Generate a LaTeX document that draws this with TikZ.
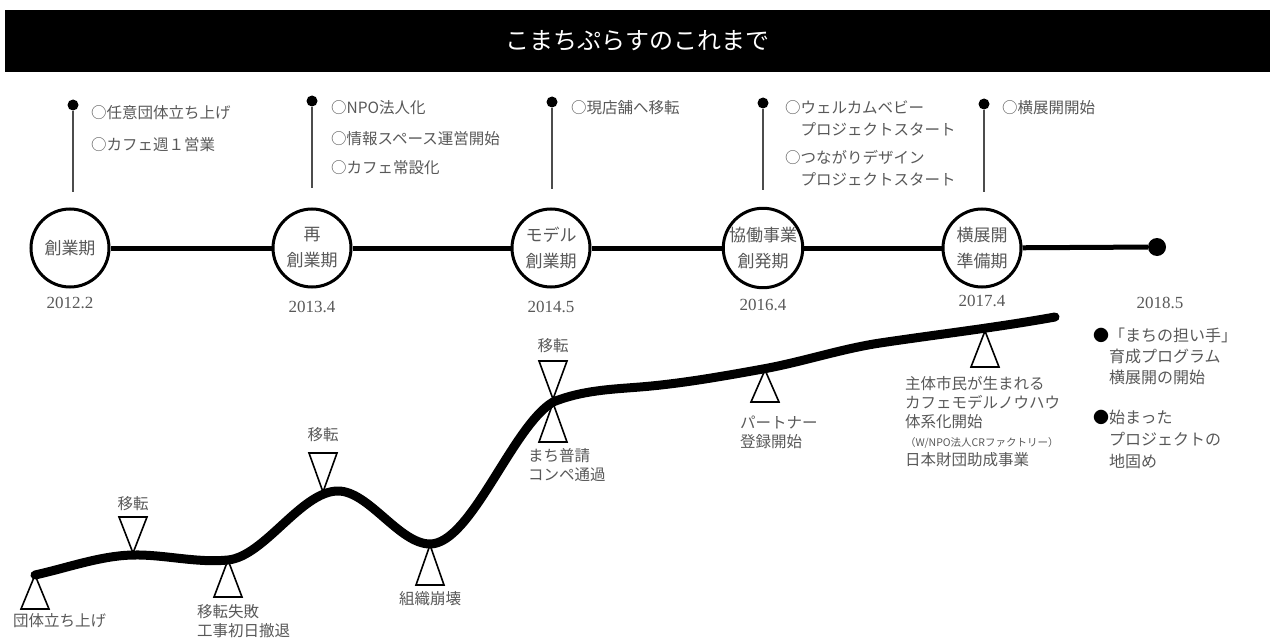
\documentclass[tikz,border=0pt]{standalone}
\usepackage{fontspec}
\setmainfont{Noto Sans CJK JP}
\newfontfamily\datefont{Liberation Serif}
\usetikzlibrary{positioning}
\usepackage{xcolor}
\definecolor{inkgray}{RGB}{88,88,88}

\begin{document}
\begin{tikzpicture}[
  x=1pt, y=-1pt,
  banner/.style={rectangle, fill=black, text=white, minimum width=1265pt, minimum height=62pt, inner sep=0pt, font=\fontsize{24}{28}\selectfont},
  phase/.style={circle, draw=black, line width=3pt, fill=white, minimum size=78pt, inner sep=0pt, align=center, text=inkgray, font=\fontsize{17}{26}\selectfont},
  pindot/.style={circle, fill=black, minimum size=11pt, inner sep=0pt},
  pinline/.style={line width=2pt, draw=black!70},
  event/.style={anchor=north west, align=left, inner sep=0pt, text=inkgray, font=\fontsize{15.5}{21}\selectfont},
  date/.style={inner sep=0pt, text=inkgray, font=\datefont\fontsize{17}{20}\selectfont},
  axis/.style={line width=5pt},
  growth/.style={line width=9pt, line cap=round, line join=round},
  tri/.style={line width=1.6pt},
  note/.style={align=left, inner sep=0pt, text=inkgray, font=\fontsize{15.5}{19}\selectfont},
]
  \useasboundingbox (0,0) rectangle (1270,642);

  % Title
  \node[banner] (title) at (637.5,41) {こまちぷらすのこれまで};

  % Phases on the timeline
  \node[phase] (p1) at (70,248) {創業期};
  \node[phase] (p2) at (312,248) {再\\創業期};
  \node[phase] (p3) at (551,248) {モデル\\創業期};
  \node[phase] (p4) at (763,248) {協働事業\\創発期};
  \node[phase] (p5) at (982,248) {横展開\\準備期};
  \node[circle, fill=black, minimum size=18pt, inner sep=0pt] (fin) at (1157,247) {};

  \draw[axis] (p1) -- (p2);
  \draw[axis] (p2) -- (p3);
  \draw[axis] (p3) -- (p4);
  \draw[axis] (p4) -- (p5);
  \draw[axis] (p5) -- (fin);

  \node[date, below=8pt of p1] (d1) {2012.2};
  \node[date, below=12pt of p2] (d2) {2013.4};
  \node[date, below=12pt of p3] (d3) {2014.5};
  \node[date, below=10pt of p4] (d4) {2016.4};
  \node[date, below=6pt of p5] (d5) {2017.4};
  \node[date] (d6) at (1160,303) {2018.5};

  % Pins with events
  \node[pindot] (k1) at (73,105) {};
  \node[pindot] (k2) at (312,101) {};
  \node[pindot] (k3) at (552,102) {};
  \node[pindot] (k4) at (763,103) {};
  \node[pindot] (k5) at (984,104) {};
  \coordinate (e1) at (73,192);
  \coordinate (e2) at (312,188);
  \coordinate (e3) at (552,189);
  \coordinate (e4) at (763,190);
  \coordinate (e5) at (984,192);
  \draw[pinline] (k1) -- (e1);
  \draw[pinline] (k2) -- (e2);
  \draw[pinline] (k3) -- (e3);
  \draw[pinline] (k4) -- (e4);
  \draw[pinline] (k5) -- (e5);

  \node[event] (ev1) at (91,105) {○任意団体立ち上げ\\[11pt]○カフェ週１営業};
  \node[event] (ev2) at (331,100) {○NPO法人化\\[10pt]○情報スペース運営開始\\[8pt]○カフェ常設化};
  \node[event] (ev3) at (571,100) {○現店舗へ移転};
  \node[event] (ev4) at (785,100) {○ウェルカムベビー\\[1pt]　プロジェクトスタート\\[7pt]○つながりデザイン\\[1pt]　プロジェクトスタート};
  \node[event] (ev5) at (1002,100) {○横展開開始};

  % Growth curve
  \coordinate (g0) at (35,575);
  \coordinate (g1) at (133,555);
  \coordinate (g2) at (228,560);
  \coordinate (g3) at (338,491);
  \coordinate (g4) at (430,544);
  \coordinate (g5) at (553,402);
  \coordinate (g6) at (640,387);
  \coordinate (g7) at (763,369);
  \coordinate (g8) at (880,343);
  \coordinate (g9) at (1055,317);

  % Markers (apex on the curve)
  \coordinate (t1) at (35,575);
  \coordinate (t2) at (133,553);
  \coordinate (t3) at (228,560);
  \coordinate (t4) at (323,492);
  \coordinate (t5) at (430,545);
  \coordinate (t6) at (553,399);
  \coordinate (t7) at (553,403);
  \coordinate (t8) at (765,370);
  \coordinate (t9) at (985,331);

  \draw[tri] (t1) -- ++(-14,34) -- ++(28,0) -- cycle;
  \draw[tri] (t2) -- ++(-14,-36) -- ++(28,0) -- cycle;
  \draw[tri] (t3) -- ++(-14,37) -- ++(28,0) -- cycle;
  \draw[tri] (t4) -- ++(-14,-39) -- ++(28,0) -- cycle;
  \draw[tri] (t5) -- ++(-14,40) -- ++(28,0) -- cycle;
  \draw[tri] (t6) -- ++(-14,-38) -- ++(28,0) -- cycle;
  \draw[tri] (t7) -- ++(-14,39) -- ++(28,0) -- cycle;
  \draw[tri] (t8) -- ++(-14,32) -- ++(28,0) -- cycle;
  \draw[tri] (t9) -- ++(-14,36) -- ++(28,0) -- cycle;

  \draw[growth] (g0) .. controls (67.7,567.8) and (100.3,555.7) .. (g1)
    .. controls (164.7,554.4) and (196.3,563.2) .. (g2)
    .. controls (264.7,556.3) and (301.3,491) .. (g3)
    .. controls (368.7,491) and (399.3,544) .. (g4)
    .. controls (471,544) and (512,426.6) .. (g5)
    .. controls (582,390.4) and (611,389.3) .. (g6)
    .. controls (681,383.7) and (722,376.4) .. (g7)
    .. controls (802,362) and (841,348.9) .. (g8)
    .. controls (938.3,334.3) and (996.7,327.5) .. (g9);

  % Marker labels
  \node[note, anchor=north west] (n1) at (13,613) {団体立ち上げ};
  \node[note, above=42pt of t2] (n2) {移転};
  \node[note, anchor=north west] (n3) at (197,604) {移転失敗\\工事初日撤退};
  \node[note, above=50pt of t4] (n4) {移転};
  \node[note, below=46pt of t5] (n5) {組織崩壊};
  \node[note, above=46pt of t6] (n6) {移転};
  \node[note, anchor=north west] (n7) at (528,448) {まち普請\\コンペ通過};
  \node[note, anchor=north west] (n8) at (740,416) {パートナー\\登録開始};
  \node[note, anchor=north west] (n9) at (905,376) {主体市民が生まれる\\カフェモデルノウハウ\\体系化開始\\{\fontsize{10.5}{15}\selectfont （W/NPO法人CRファクトリー）}\\日本財団助成事業};

  % Next steps
  \node[note, anchor=north west, font=\fontsize{16}{21}\selectfont] (x1) at (1093,328) {\textcolor{black}{●}「まちの担い手」\\　育成プログラム\\　横展開の開始};
  \node[note, anchor=north west, font=\fontsize{16}{22}\selectfont] (x2) at (1093,410) {\textcolor{black}{●}始まった\\　プロジェクトの\\　地固め};
\end{tikzpicture}
\end{document}
